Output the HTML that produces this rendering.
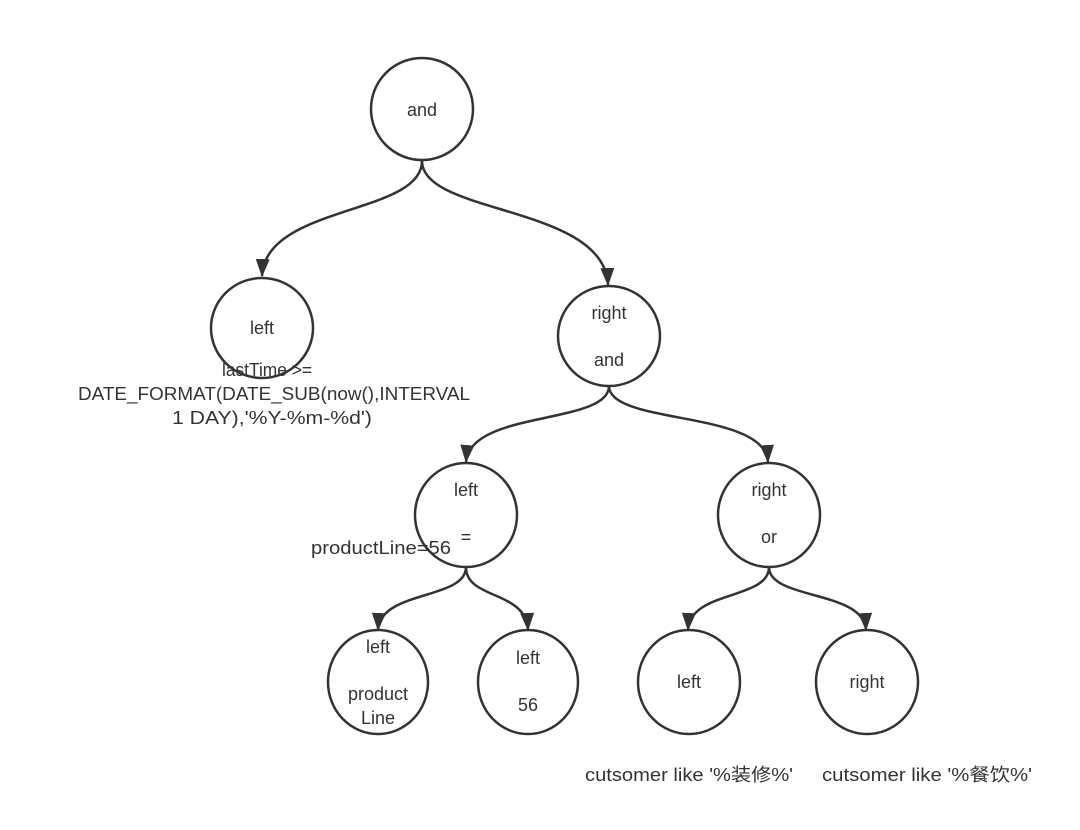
<!DOCTYPE html>
<html><head><meta charset="utf-8"><style>
html,body{margin:0;padding:0;background:#fff;}
svg text{font-family:"Liberation Sans","Noto Sans CJK SC",sans-serif;font-size:18px;fill:#333;text-anchor:middle;}
svg text.s{text-anchor:start;}
</style></head><body>
<svg width="1080" height="825" viewBox="0 0 1080 825" xmlns="http://www.w3.org/2000/svg">
<defs>
<marker id="ar" markerWidth="20" markerHeight="16" refX="17" refY="7" orient="auto" markerUnits="userSpaceOnUse">
<path d="M0,0 L18,7 L0,14 z" fill="#333"/>
</marker>
</defs>
<g fill="none" stroke="#333" stroke-width="2.5">
<path d="M422,161 C422,215 265,205 262,276" marker-end="url(#ar)"/>
<path d="M422,161 C422,215 605,205 608,285" marker-end="url(#ar)"/>
<path d="M609,386 C609,425 470,410 466,462" marker-end="url(#ar)"/>
<path d="M609,386 C609,425 765,410 768,462" marker-end="url(#ar)"/>
<path d="M466,567 C466,600 380,590 378,630" marker-end="url(#ar)"/>
<path d="M466,567 C466,600 526,590 528,630" marker-end="url(#ar)"/>
<path d="M769,567 C769,600 690,590 688,630" marker-end="url(#ar)"/>
<path d="M769,567 C769,600 864,590 866,630" marker-end="url(#ar)"/>
<circle cx="422" cy="109" r="51"/>
<ellipse cx="262" cy="328" rx="51" ry="50"/>
<ellipse cx="609" cy="336" rx="51" ry="50"/>
<ellipse cx="466" cy="515" rx="51" ry="52"/>
<ellipse cx="769" cy="515" rx="51" ry="52"/>
<ellipse cx="378" cy="682" rx="50" ry="52"/>
<ellipse cx="528" cy="682" rx="50" ry="52"/>
<ellipse cx="689" cy="682" rx="51" ry="52"/>
<ellipse cx="867" cy="682" rx="51" ry="52"/>
</g>
<text x="422" y="116">and</text>
<text x="262" y="334">left</text>
<text x="609" y="319">right</text>
<text x="609" y="366">and</text>
<text class="s" x="222" y="376" textLength="90" lengthAdjust="spacingAndGlyphs">lastTime &gt;=</text>
<text class="s" x="78" y="400" textLength="392" lengthAdjust="spacingAndGlyphs">DATE_FORMAT(DATE_SUB(now(),INTERVAL</text>
<text class="s" x="172" y="424" textLength="200" lengthAdjust="spacingAndGlyphs">1 DAY),'%Y-%m-%d')</text>
<text x="466" y="496">left</text>
<text x="466" y="543">=</text>
<text class="s" x="311" y="554" textLength="140" lengthAdjust="spacingAndGlyphs">productLine=56</text>
<text x="769" y="496">right</text>
<text x="769" y="543">or</text>
<text x="378" y="653">left</text>
<text x="378" y="700">product</text>
<text x="378" y="724">Line</text>
<text x="528" y="664">left</text>
<text x="528" y="711">56</text>
<text x="689" y="688">left</text>
<text x="867" y="688">right</text>
<text class="s" x="585" y="781" textLength="208" lengthAdjust="spacingAndGlyphs">cutsomer like '%装修%'</text>
<text class="s" x="822" y="781" textLength="210" lengthAdjust="spacingAndGlyphs">cutsomer like '%餐饮%'</text>
</svg>
</body></html>
